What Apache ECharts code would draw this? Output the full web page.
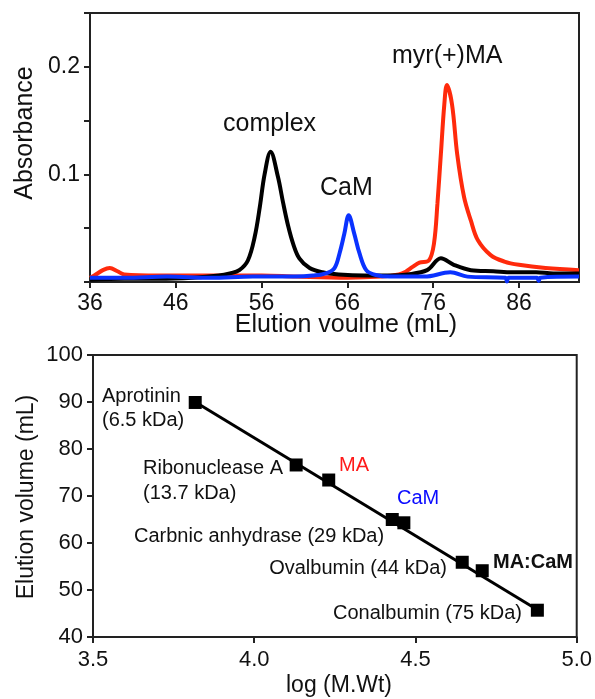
<!DOCTYPE html>
<html>
<head>
<meta charset="utf-8">
<script src="https://cdn.jsdelivr.net/npm/echarts@6/dist/echarts.min.js"></script>
<style>
  html, body { margin: 0; padding: 0; background: #fff; }
  #chart { width: 595px; height: 699px; }
</style>
</head>
<body>
<div id="chart"></div>
<script>
  // top panel: elution profiles [volume mL, absorbance]
  var complexTrace = [
    [36, 0.002], [40, 0.003], [44, 0.003], [48, 0.004], [51, 0.006], [52.3, 0.008], [53.4, 0.011],
    [54.4, 0.020], [55.2, 0.042], [55.8, 0.070], [56.35, 0.100], [57.05, 0.121], [57.9, 0.098],
    [58.5, 0.074], [59.1, 0.052], [59.7, 0.035], [60.4, 0.022], [61.6, 0.013], [63.1, 0.009],
    [65, 0.007], [68, 0.006], [71, 0.006], [73, 0.007], [75.3, 0.011], [76.9, 0.022], [78.4, 0.016],
    [80.4, 0.011], [83, 0.010], [85.2, 0.009], [88, 0.009], [90, 0.008], [93, 0.008]
  ];
  var camTrace = [
    [36, 0.004], [40, 0.004], [45, 0.005], [50, 0.004], [55, 0.005], [60, 0.005], [62, 0.006],
    [63.5, 0.008], [64.5, 0.013], [65.1, 0.027], [65.65, 0.045], [66.15, 0.062], [66.8, 0.045],
    [67.4, 0.027], [68.2, 0.011], [69.3, 0.0065], [71, 0.005], [75, 0.005], [78, 0.009],
    [80, 0.005], [84.4, 0.004], [84.6, 0.0005], [84.8, 0.004], [88.1, 0.004], [88.3, 0.001],
    [88.5, 0.004], [93, 0.005]
  ];
  var maTrace = [
    [36, 0.004], [36.5, 0.006], [37.5, 0.011], [38.3, 0.013], [39.2, 0.010], [40, 0.007],
    [44, 0.006], [50, 0.006], [56, 0.006], [60, 0.005], [66, 0.004], [70, 0.005], [72, 0.007],
    [72.8, 0.0095], [73.6, 0.014], [74.4, 0.018], [75.5, 0.020], [76.1, 0.036], [76.5, 0.073],
    [76.9, 0.119], [77.3, 0.165], [77.6, 0.183], [78.2, 0.165], [78.8, 0.119], [79.6, 0.079],
    [80.4, 0.057], [81.2, 0.039], [82.7, 0.025], [84.3, 0.019], [86, 0.016], [89.1, 0.013],
    [93, 0.011]
  ];
  var volTicks = [36, 46, 56, 66, 76, 86];
  var absTicks = [0, 0.05, 0.1, 0.15, 0.2, 0.25];
  var absLabels = [0.1, 0.2];

  // bottom panel: calibration
  var proteinNames = ['Aprotinin', 'Ribonuclease A', 'MA', 'Carbnic anhydrase', 'CaM', 'Ovalbumin', 'MA:CaM', 'Conalbumin'];
  var logMW = [3.817, 4.130, 4.231, 4.428, 4.464, 4.645, 4.707, 4.878];
  var elutionVol = [89.9, 76.6, 73.4, 65.0, 64.3, 55.9, 54.1, 45.7];
  var fitX = [3.817, 4.878];
  var fitY = [90.0, 45.8];

  var FONT = '"Liberation Sans", Arial, sans-serif';
  var AX = '#222';

  var calibPoints = logMW.map(function (x, i) { return { name: proteinNames[i], value: [x, elutionVol[i]] }; });
  var fitLine = fitX.map(function (x, i) { return [x, fitY[i]]; });

  function txt(x, y, s, opt) {
    opt = opt || {};
    return {
      type: 'text', x: x, y: y, silent: true,
      rotation: opt.rot || 0,
      style: {
        text: s, fill: opt.color || '#111',
        font: (opt.bold ? 'bold ' : '') + (opt.size || 20) + 'px ' + FONT,
        textAlign: opt.align || 'left', textVerticalAlign: 'middle'
      }
    };
  }

  var chart = echarts.init(document.getElementById('chart'));
  var option = {
    animation: false,
    backgroundColor: '#fff',
    grid: [
      { left: 90, right: 16, top: 13, height: 269, show: true, borderColor: AX, borderWidth: 2 },
      { left: 93, right: 18, top: 355, height: 282, show: true, borderColor: AX, borderWidth: 2 }
    ],
    xAxis: [
      {
        gridIndex: 0, type: 'value', min: 36, max: 93,
        splitLine: { show: false },
        axisLine: { lineStyle: { color: AX, width: 2 } },
        axisTick: { customValues: volTicks, length: 6, lineStyle: { color: AX, width: 2 } },
        axisLabel: { customValues: volTicks, margin: 10, color: '#111', fontSize: 23, fontFamily: FONT }
      },
      {
        gridIndex: 1, type: 'value', min: 3.5, max: 5.0, interval: 0.5,
        splitLine: { show: false },
        axisLine: { lineStyle: { color: AX, width: 2 } },
        axisTick: { length: 6, lineStyle: { color: AX, width: 2 } },
        axisLabel: {
          margin: 12, color: '#111', fontSize: 22, fontFamily: FONT,
          formatter: function (v) { return v.toFixed(1); }
        }
      }
    ],
    yAxis: [
      {
        gridIndex: 0, type: 'value', min: 0, max: 0.25,
        splitLine: { show: false },
        axisLine: { lineStyle: { color: AX, width: 2 } },
        axisTick: { customValues: absTicks, length: 6, lineStyle: { color: AX, width: 2 } },
        axisLabel: { customValues: absLabels, margin: 10, color: '#111', fontSize: 23, fontFamily: FONT }
      },
      {
        gridIndex: 1, type: 'value', min: 40, max: 100, interval: 10,
        splitLine: { show: false },
        axisLine: { lineStyle: { color: AX, width: 2 } },
        axisTick: { length: 6, lineStyle: { color: AX, width: 2 } },
        axisLabel: { margin: 10, color: '#111', fontSize: 22, fontFamily: FONT }
      }
    ],
    series: [
      {
        name: 'myr(+)MA', type: 'line', xAxisIndex: 0, yAxisIndex: 0,
        data: maTrace, showSymbol: false, smooth: 0.35,
        lineStyle: { color: '#ff2a0c', width: 4 }
      },
      {
        name: 'complex', type: 'line', xAxisIndex: 0, yAxisIndex: 0,
        data: complexTrace, showSymbol: false, smooth: 0.35,
        lineStyle: { color: '#000', width: 4 }
      },
      {
        name: 'CaM', type: 'line', xAxisIndex: 0, yAxisIndex: 0,
        data: camTrace, showSymbol: false, smooth: 0.35,
        lineStyle: { color: '#0a32ff', width: 4 }
      },
      {
        name: 'fit', type: 'line', xAxisIndex: 1, yAxisIndex: 1,
        data: fitLine, showSymbol: false,
        lineStyle: { color: '#000', width: 3 }
      },
      {
        name: 'standards', type: 'scatter', xAxisIndex: 1, yAxisIndex: 1,
        data: calibPoints, symbol: 'rect', symbolSize: 13,
        itemStyle: { color: '#000', opacity: 1 }
      }
    ],
    graphic: [
      // top panel texts
      txt(25, 133, 'Absorbance', { size: 25, rot: Math.PI / 2, align: 'center' }),
      txt(346, 325, 'Elution voulme (mL)', { size: 25, align: 'center' }),
      txt(223, 124, 'complex', { size: 25 }),
      txt(320, 188, 'CaM', { size: 25 }),
      txt(392, 56, 'myr(+)MA', { size: 25 }),
      // bottom panel texts
      txt(27, 497, 'Elution volume (mL)', { size: 23, rot: Math.PI / 2, align: 'center' }),
      txt(339, 686, 'log (M.Wt)', { size: 23, align: 'center' }),
      txt(102, 396, 'Aprotinin'),
      txt(102, 420, '(6.5 kDa)'),
      txt(143, 468, 'Ribonuclease A'),
      txt(143, 493, '(13.7 kDa)'),
      txt(339, 465, 'MA', { color: '#ff1a1a' }),
      txt(397, 498, 'CaM', { color: '#0a0aff' }),
      txt(134, 536, 'Carbnic anhydrase (29 kDa)'),
      txt(447, 568, 'Ovalbumin (44 kDa)', { align: 'right' }),
      txt(493, 562, 'MA:CaM', { bold: true }),
      txt(522, 613, 'Conalbumin (75 kDa)', { align: 'right' })
    ]
  };
  chart.setOption(option);
</script>
</body>
</html>
